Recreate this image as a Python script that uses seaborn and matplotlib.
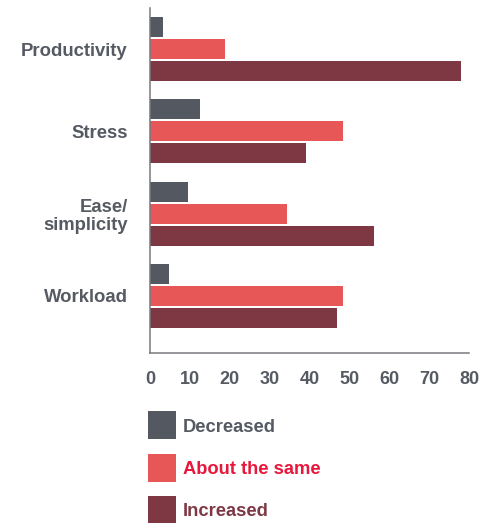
import matplotlib
matplotlib.use("Agg")
import matplotlib.pyplot as plt
from matplotlib.patches import Rectangle
import seaborn as sns
import pandas as pd

categories = ["Productivity", "Stress", "Ease/\nsimplicity", "Workload"]
series = ["Decreased", "About the same", "Increased"]
decreased = [3.3, 12.6, 9.5, 4.8]
about_same = [18.8, 48.5, 34.4, 48.5]
increased = [78.1, 39.2, 56.2, 46.9]
x_ticks = [0, 10, 20, 30, 40, 50, 60, 70, 80]

bar_colors = ["#545961", "#e85757", "#7e3844"]
text_colors = ["#555a63", "#e8173c", "#7e3844"]
label_color = "#555a63"
spine_color = "#77797f"

rows = []
for name, vals in zip(series, [decreased, about_same, increased]):
    for c, v in zip(categories, vals):
        rows.append({"category": c, "series": name, "value": v})
df = pd.DataFrame(rows)

sns.set_style("white")
plt.rcParams["font.family"] = ["Liberation Sans", "DejaVu Sans"]

W, H = 494, 523
fig = plt.figure(figsize=(W / 100, H / 100), dpi=100)
ax = fig.add_axes([150 / W, 1 - 352.7 / H, (469 - 150) / W, (352.7 - 8) / H])

sns.barplot(data=df, y="category", x="value", hue="series", order=categories,
            hue_order=series, palette=bar_colors, orient="h", width=0.8, gap=0.09,
            saturation=1, legend=False, ax=ax, linewidth=0)

ax.set_xlim(0, 80)
ax.set_ylim(3.69, -0.5)
ax.set_xlabel("")
ax.set_ylabel("")
ax.set_xticks(x_ticks)
ax.set_xticklabels([str(t) for t in x_ticks], fontsize=13, fontweight="bold", color=label_color)
ax.set_yticks(range(len(categories)))
ax.set_yticklabels(categories, fontsize=13.3, fontweight="bold", color=label_color,
                   linespacing=1.1)
ax.set_yticks([0.5, 1.5, 2.5], minor=True)
ax.tick_params(axis="y", which="major", length=0, pad=16)
ax.tick_params(axis="y", which="minor", direction="in", length=5.5, width=1.1, color=spine_color)
ax.tick_params(axis="x", which="major", direction="in", length=5.5, width=1.1,
               color=spine_color, pad=13)

for s in ["top", "right"]:
    ax.spines[s].set_visible(False)
for s in ["left", "bottom"]:
    ax.spines[s].set_color(spine_color)
    ax.spines[s].set_linewidth(1.1)

# legend drawn in figure pixel positions
tops = [411, 453.5, 496]
sq = 28
for top, name, fc, tc in zip(tops, series, bar_colors, text_colors):
    fig.add_artist(Rectangle((147.5 / W, 1 - (top + sq) / H), sq / W, sq / H,
                             transform=fig.transFigure, facecolor=fc, edgecolor="none"))
    fig.text(183 / W, 1 - (top + sq / 2) / H, name, fontsize=13.2, fontweight="bold",
             color=tc, ha="left", va="center_baseline")

fig.savefig("out.png", dpi=100)
